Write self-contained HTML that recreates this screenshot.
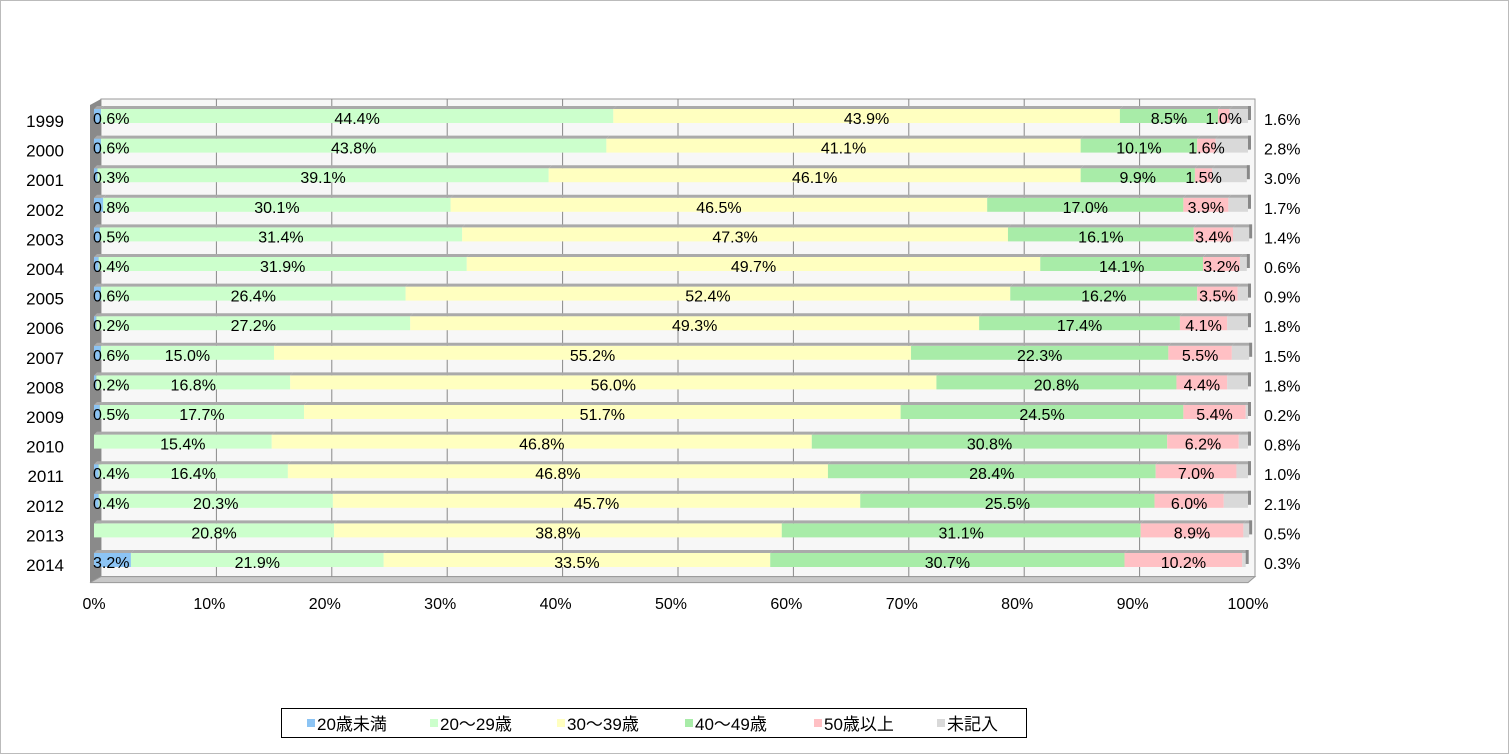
<!DOCTYPE html>
<html><head><meta charset="utf-8"><style>
body{margin:0;background:#fff}
svg{display:block;font-family:"Liberation Sans","Noto Sans CJK JP",sans-serif}
</style></head><body>
<svg id="c" width="1509" height="754">
<rect x="0.5" y="0.5" width="1508" height="753" fill="#fff" stroke="#bbb"/>
<g id="plot"></g>
<g id="legend"></g>
</svg>
<script>
const years=["1999","2000","2001","2002","2003","2004","2005","2006","2007","2008","2009","2010","2011","2012","2013","2014"];
const under20=[0.6,0.6,0.3,0.8,0.5,0.4,0.6,0.2,0.6,0.2,0.5,0,0.4,0.4,0,3.2];
const age20s=[44.4,43.8,39.1,30.1,31.4,31.9,26.4,27.2,15.0,16.8,17.7,15.4,16.4,20.3,20.8,21.9];
const age30s=[43.9,41.1,46.1,46.5,47.3,49.7,52.4,49.3,55.2,56.0,51.7,46.8,46.8,45.7,38.8,33.5];
const age40s=[8.5,10.1,9.9,17.0,16.1,14.1,16.2,17.4,22.3,20.8,24.5,30.8,28.4,25.5,31.1,30.7];
const over50=[1.0,1.6,1.5,3.9,3.4,3.2,3.5,4.1,5.5,4.4,5.4,6.2,7.0,6.0,8.9,10.2];
const unknown=[1.6,2.8,3.0,1.7,1.4,0.6,0.9,1.8,1.5,1.8,0.2,0.8,1.0,2.1,0.5,0.3];
const seriesNames=["20歳未満","20～29歳","30～39歳","40～49歳","50歳以上","未記入"];
const xTicks=[0,10,20,30,40,50,60,70,80,90,100];
const series=[under20,age20s,age30s,age40s,over50,unknown];
const colors=["#8cc4f4","#ccffcc","#ffffc0","#a8eca8","#ffc0c4","#d9d9d9"];
const NS="http://www.w3.org/2000/svg";
const plot=document.getElementById("plot"),legend=document.getElementById("legend");
function mk(tag,attrs,parent,text){const e=document.createElementNS(NS,tag);for(const k in attrs)e.setAttribute(k,attrs[k]);if(text!==undefined)e.textContent=text;parent.appendChild(e);return e;}
const X0=94,W=1154,DX=7,DY=-7,Y0=109,STEP=29.6,BH=14;
const x=v=>X0+v/100*W;
const y=i=>Y0+i*STEP;
let w=mk("rect",{x:X0+DX,y:Y0+DY-3,width:W,height:STEP*years.length+4,fill:"#f7f7f7",stroke:"#999"},plot);

let lw=mk("polygon",{points:`${X0-4},${Y0-4} ${X0+DX},${Y0+DY-3} ${X0+DX},${Y0+STEP*16-6} ${X0-4},${Y0+STEP*16}`,fill:"#8a8a8a"},plot);

let fl=mk("polygon",{points:`${X0-4},${Y0+STEP*16} ${X0+DX},${Y0+STEP*16-6} ${X0+W+DX},${Y0+STEP*16-6} ${X0+W},${Y0+STEP*16}`,fill:"#c8c8c8",stroke:"#999"},plot);

xTicks.forEach(t=>{
 if(t>0&&t<100){let g=mk("line",{x1:x(t)+DX,x2:x(t)+DX,y1:Y0+DY-3,y2:Y0+STEP*16-6,stroke:"#888"},plot);
 }
 let l=mk("text",{x:x(t),y:609,"text-anchor":"middle","font-size":16},plot,t+"%");
 
});
years.forEach((yr,i)=>{
 let yl=mk("text",{x:64,y:y(i)+18,"text-anchor":"end","font-size":17},plot,yr);
 
 let cum=0;
 series.forEach((s,k)=>{
  const v=s[i];
  if(v>0){
   let r=mk("rect",{x:x(cum),y:y(i),width:x(cum+v)-x(cum),height:BH,fill:colors[k]},plot);
   
   let tp=mk("polygon",{points:`${x(cum)},${y(i)} ${x(cum)+3},${y(i)-3} ${x(cum+v)+3},${y(i)-3} ${x(cum+v)},${y(i)}`,fill:"#aaa"},plot);
   
  }
  cum+=v;
 });
 let ed=mk("rect",{x:x(cum),y:y(i)-3,width:3,height:BH,fill:"#888"},plot);
 
 cum=0;
 series.forEach((s,k)=>{
  const v=s[i];let tx,anchor="middle";
  if(k===0){tx=x(0)-1;anchor="start";}
  else if(k===5){tx=1264;anchor="start";}
  else tx=x(cum+v/2);
  if(v>0){let t=mk("text",{x:tx,y:y(i)+15+(k===5?1:0),"text-anchor":anchor,"font-size":16},plot,v.toFixed(1)+"%");
   }
  cum+=v;
 });
});
let lb=mk("rect",{x:281.5,y:708.5,width:745,height:29,fill:"#fff",stroke:"#000"},legend);

const lx=[307,430,557,685,814,937];
seriesNames.forEach((n,k)=>{
 let s=mk("rect",{x:lx[k],y:719,width:8,height:8,fill:colors[k]},legend);
 
 let t=mk("text",{x:lx[k]+10,y:730,"font-size":17},legend,n);
 
});
</script>
</body></html>
